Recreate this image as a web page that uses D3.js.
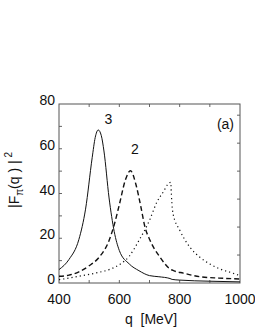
<!DOCTYPE html>
<html>
<head>
<meta charset="utf-8">
<script src="https://cdn.jsdelivr.net/npm/d3@7"></script>
<style>
  body { margin: 0; background: #fff; }
  text { font-family: "Liberation Sans", Arial, sans-serif; fill: #111; }
</style>
</head>
<body>
<script>
// chart size
var w = 255, h = 330;

// curve 3 (solid)
var q3 = [400, 433, 466, 488, 510, 520, 530, 540, 549, 566, 583, 600, 633, 665, 700, 731, 768, 775, 800, 900, 1000];
var f3 = [6, 10.5, 19.5, 33, 56, 65, 68.4, 66, 59, 38, 23, 14.5, 8.5, 5.5, 3.3, 2.8, 2.0, 1.6, 1.3, 0.8, 0.5];

// curve 2 (dashed)
var q2 = [400, 433, 466, 500, 533, 566, 583, 600, 620, 637, 655, 670, 685, 702, 735, 768, 780, 812, 868, 930, 1000];
var f2 = [3, 3.5, 5, 7.7, 11.5, 19, 26, 35, 46, 50.2, 44, 35, 25, 19, 11.5, 6.3, 5.5, 4.4, 2.8, 2.2, 1.8];

// curve 1 (dotted)
var q1 = [400, 466, 533, 566, 600, 633, 665, 700, 724, 747, 760, 770, 774, 778, 801, 834, 867, 900, 933, 967, 1000];
var f1 = [1.5, 3, 4.8, 6, 8.2, 12, 19, 28, 36, 41, 44, 45, 36, 31, 23.4, 16, 11.5, 8.5, 6.3, 4.8, 3.3];

var xTicks = [400, 600, 800, 1000];
var yTicks = [0, 20, 40, 60, 80];

window.onload = function(){

    var svg = d3.select("body")
        .append("svg")
        .attr("width", w)
        .attr("height", h);

    var x = d3.scaleLinear()
        .domain([400, 1000])
        .range([59, 240]);

    var y = d3.scaleLinear()
        .domain([0, 80])
        .range([283, 104]);

    //minor ticks, pointing inward
    var ticks = svg.append("g").attr("stroke", "#666").attr("stroke-width", 1);
    d3.range(500, 1000, 100).forEach(function(v){
        ticks.append("line").attr("x1", x(v)).attr("x2", x(v)).attr("y1", y(0)).attr("y2", y(0) - 3);
        ticks.append("line").attr("x1", x(v)).attr("x2", x(v)).attr("y1", y(80)).attr("y2", y(80) + 3);
    });
    d3.range(10, 80, 10).forEach(function(v){
        ticks.append("line").attr("x1", x(400)).attr("x2", x(400) + 3).attr("y1", y(v)).attr("y2", y(v));
    });
    d3.range(12.5, 80, 12.5).forEach(function(v){
        ticks.append("line").attr("x1", x(1000)).attr("x2", x(1000) - 3).attr("y1", y(v)).attr("y2", y(v));
    });

    //frame
    svg.append("rect")
        .attr("x", x(400))
        .attr("y", y(80))
        .attr("width", x(1000) - x(400))
        .attr("height", y(0) - y(80))
        .attr("fill", "none")
        .attr("stroke", "#555")
        .attr("stroke-width", 1);

    //tick labels
    svg.selectAll(".xlab")
        .data(xTicks)
        .enter()
        .append("text")
        .attr("class", "xlab")
        .attr("x", function(d){ return x(d); })
        .attr("y", 304)
        .attr("text-anchor", "middle")
        .style("font-size", "14px")
        .text(function(d){ return d; });

    svg.selectAll(".ylab")
        .data(yTicks)
        .enter()
        .append("text")
        .attr("class", "ylab")
        .attr("x", 55)
        .attr("y", function(d){ return y(d) + 1; })
        .attr("text-anchor", "end")
        .style("font-size", "14px")
        .text(function(d){ return d; });

    //curves
    var series = [
        { q: q3, f: f3, dash: null, width: 1 },
        { q: q2, f: f2, dash: "5,3", width: 1.4 },
        { q: q1, f: f1, dash: "1.2,3", width: 1.2 }
    ];

    var line = d3.line()
        .x(function(d){ return x(d[0]); })
        .y(function(d){ return y(d[1]); })
        .curve(d3.curveMonotoneX);

    series.forEach(function(s){
        svg.append("path")
            .datum(d3.zip(s.q, s.f))
            .attr("d", line)
            .attr("fill", "none")
            .attr("stroke", "#111")
            .attr("stroke-width", s.width)
            .attr("stroke-dasharray", s.dash);
    });

    //curve labels
    svg.append("text").attr("x", 108.5).attr("y", 124).attr("text-anchor", "middle")
        .style("font-size", "14px").text("3");
    svg.append("text").attr("x", 135).attr("y", 154).attr("text-anchor", "middle")
        .style("font-size", "14px").text("2");
    svg.append("text").attr("x", 234).attr("y", 129).attr("text-anchor", "end")
        .style("font-size", "14px").text("(a)");

    //axis titles
    svg.append("text")
        .attr("x", 151)
        .attr("y", 324)
        .attr("text-anchor", "middle")
        .style("font-size", "14px")
        .attr("xml:space", "preserve")
        .text("q  [MeV]");

    var ylab = svg.append("text")
        .attr("transform", "translate(19,180) rotate(-90)")
        .attr("text-anchor", "middle")
        .style("font-size", "14px");
    ylab.append("tspan").text("|F");
    ylab.append("tspan").attr("dy", 4).style("font-size", "10px").text("π");
    ylab.append("tspan").attr("dy", -4).text("(q ) |");
    ylab.append("tspan").attr("dy", -7).style("font-size", "10px").text(" 2");
};
</script>
</body>
</html>
